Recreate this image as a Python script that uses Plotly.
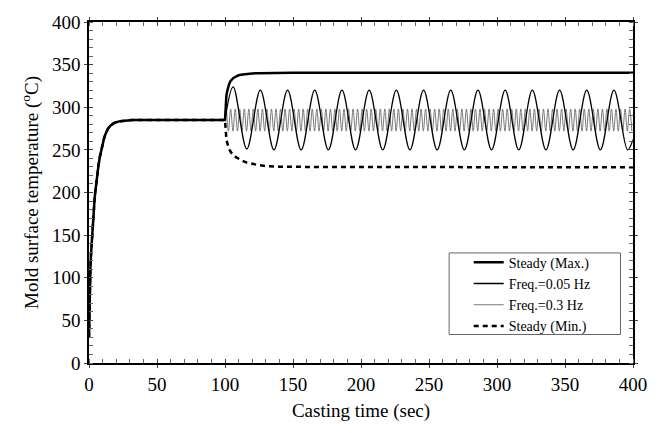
import numpy as np
import plotly.graph_objects as go

# Warm-up of the mold surface from the start of casting (shared by both steady curves)
warmup_t = [0, 0.2, 0.4, 0.7, 1, 1.5, 2, 2.5, 3, 3.5, 4, 4.5, 5, 5.5, 6, 7, 8, 9, 10, 11, 12, 13, 14, 15,
            16, 18, 20, 23, 27, 32, 100]
warmup_T = [30, 55, 75, 97, 110, 128, 143, 157, 169, 180, 190, 199, 207, 214, 221, 232, 242, 250, 257, 263,
            268, 272, 275, 277, 278.8, 281, 282.5, 283.7, 284.5, 285, 285]

# Steady operation after 100 s: upper and lower envelopes
steady_max_t = [100.3, 100.6, 101, 101.5, 102, 103, 104, 105, 106, 108, 110, 113, 116, 120, 125, 130, 150, 400]
steady_max_T = [298, 306, 313, 318, 322, 327, 330.5, 332.5, 334, 336, 337.5, 338.5, 339.2, 339.7, 340, 340.2,
                340.4, 340.5]
steady_min_t = [100.3, 100.6, 101, 101.5, 102, 103, 104, 105, 106, 108, 110, 113, 116, 120, 125, 130, 140,
                160, 400]
steady_min_T = [274, 268, 263, 259, 255, 251, 248, 246, 244, 241.5, 239.5, 237, 235, 233.5, 232, 231, 230.3,
                230, 229.5]

# Oscillating casting speed, 0.05 Hz: turning points of the surface temperature
f005_t = [100, 106, 116, 126, 136, 146, 156, 166, 176, 186, 196, 206, 216, 226, 236, 246, 256,
          266, 276, 286, 296, 306, 316, 326, 336, 346, 356, 366, 376, 386, 396, 400]
f005_T = [285, 324, 251, 320, 250, 320, 250, 320, 250, 320, 250, 320, 250, 320, 250, 320, 250,
          320, 250, 320, 250, 320, 250, 320, 250, 320, 250, 320, 250, 320, 250, 262]

# Oscillating casting speed, 0.3 Hz: turning points (one every half period)
f03_T = [285,
         298, 272, 298, 272, 298, 272, 298, 272, 298, 272, 298, 272, 298, 272, 298, 272, 298, 272, 298, 272,
         298, 272, 298, 272, 298, 272, 298, 272, 298, 272, 298, 272, 298, 272, 298, 272, 298, 272, 298, 272,
         298, 272, 298, 272, 298, 272, 298, 272, 298, 272, 298, 272, 298, 272, 298, 272, 298, 272, 298, 272,
         298, 272, 298, 272, 298, 272, 298, 272, 298, 272, 298, 272, 298, 272, 298, 272, 298, 272, 298, 272,
         298, 272, 298, 272, 298, 272, 298, 272, 298, 272, 298, 272, 298, 272, 298, 272, 298, 272, 298, 272,
         298, 272, 298, 272, 298, 272, 298, 272, 298, 272, 298, 272, 298, 272, 298, 272, 298, 272, 298, 272,
         298, 272, 298, 272, 298, 272, 298, 272, 298, 272, 298, 272, 298, 272, 298, 272, 298, 272, 298, 272,
         298, 272, 298, 272, 298, 272, 298, 272, 298, 272, 298, 272, 298, 272, 298, 272, 298, 272, 298, 272,
         298, 272, 298, 272, 298, 272, 298, 272, 298, 272, 298, 272, 298, 272, 298, 272, 298, 272, 298, 272]
f03_t = np.concatenate([[100.0], np.linspace(100.8333, 399.1667, len(f03_T) - 1)])

x_ticks = [0, 50, 100, 150, 200, 250, 300, 350, 400]
y_ticks = [0, 50, 100, 150, 200, 250, 300, 350, 400]

FONT = "Liberation Serif"

fig = go.Figure()

fig.add_trace(go.Scatter(x=warmup_t + steady_min_t, y=warmup_T + steady_min_T, mode="lines",
                         name="Steady (Min.)",
                         line=dict(color="black", width=2.5, dash="5px,4px"),
                         legendrank=4, legendgroup="d"))
fig.add_trace(go.Scatter(x=f03_t, y=f03_T, mode="lines", name="Freq.=0.3 Hz",
                         line=dict(color="#7a7a7a", width=1, shape="spline"),
                         legendrank=3, legendgroup="c"))
fig.add_trace(go.Scatter(x=f005_t, y=f005_T, mode="lines", name="Freq.=0.05 Hz",
                         line=dict(color="black", width=1.3, shape="spline"),
                         legendrank=2, legendgroup="b"))
fig.add_trace(go.Scatter(x=warmup_t + steady_max_t, y=warmup_T + steady_max_T, mode="lines",
                         name="Steady (Max.)",
                         line=dict(color="black", width=2.5),
                         legendrank=1, legendgroup="a"))
# carrier for the inner half of the major ticks
fig.add_trace(go.Scatter(x=[None], y=[None], xaxis="x2", yaxis="y2", showlegend=False, hoverinfo="skip"))

axis_common = dict(
    range=[0, 400], showgrid=False, zeroline=False,
    showline=True, linecolor="black", linewidth=1.5, mirror="allticks",
    ticks="outside", ticklen=3, tickcolor="#444", tickwidth=1,
    minor=dict(ticks="inside", ticklen=4, dtick=10, tickcolor="#666", tickwidth=1),
    tickfont=dict(family=FONT, size=19, color="black"),
)
fig.update_layout(
    width=659, height=433,
    margin=dict(l=89, r=24, t=16, b=70),
    paper_bgcolor="white", plot_bgcolor="white",
    font=dict(family=FONT, color="black"),
    xaxis=dict(axis_common, tickvals=x_ticks,
               title=dict(text="Casting time (sec)", font=dict(family=FONT, size=19), standoff=10)),
    yaxis=dict(axis_common, tickvals=y_ticks,
               title=dict(text="Mold surface temperature (<sup>o</sup>C)", font=dict(family=FONT, size=19),
                          standoff=8)),
    xaxis2=dict(overlaying="x", range=[0, 400], tickvals=x_ticks, ticks="inside", ticklen=4,
                tickcolor="#444", showticklabels=False, showgrid=False, zeroline=False,
                showline=False, mirror="ticks"),
    yaxis2=dict(overlaying="y", range=[0, 400], tickvals=y_ticks, ticks="inside", ticklen=4,
                tickcolor="#444", showticklabels=False, showgrid=False, zeroline=False,
                showline=False, mirror="ticks"),
    showlegend=True,
    legend=dict(x=0.698, y=0.341, xanchor="left", yanchor="top",
                bgcolor="rgba(0,0,0,0)", borderwidth=0, tracegroupgap=0,
                font=dict(family=FONT, size=14, color="black")),
    shapes=[dict(type="rect", xref="paper", yref="paper", x0=0.662, x1=0.977, y0=0.0836, y1=0.3228,
                 line=dict(color="#666", width=1), fillcolor="rgba(0,0,0,0)", layer="below")],
)

fig.write_html("out.html")
